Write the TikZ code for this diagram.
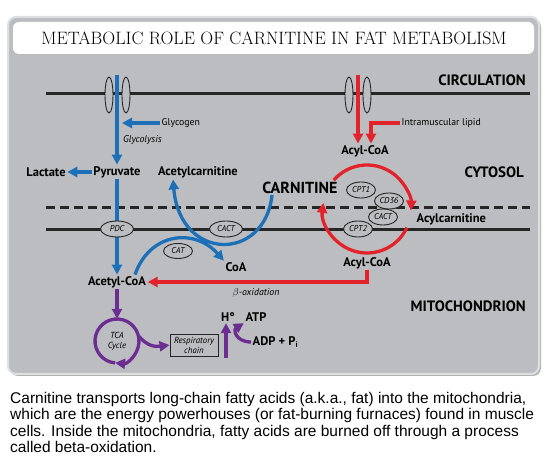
\documentclass[tikz,border=0pt]{standalone}
\usepackage{fontspec}
\newfontfamily\labelfont{PT Sans}
\newfontfamily\captionfont{Liberation Sans}
\usepackage{tikz}
\usetikzlibrary{arrows.meta,shapes.geometric,calc}
\usepackage{xcolor}
\definecolor{panelgray}{RGB}{188,189,192}
\definecolor{rimgray}{RGB}{222,223,224}
\definecolor{pathblue}{RGB}{28,112,184}
\definecolor{pathred}{RGB}{226,35,43}
\definecolor{pathpurple}{RGB}{108,45,145}

\begin{document}
\begin{tikzpicture}[
  x=1pt,y=-1pt,font=\labelfont,
  membrane/.style={line width=3pt, draw=black!85},
  chan/.style={ellipse, draw=black!85, line width=0.9pt, fill=panelgray,
    minimum width=8pt, minimum height=36pt, inner sep=0pt},
  enz/.style={ellipse, draw=black!85, line width=0.9pt, fill=panelgray,
    minimum width=29pt, minimum height=16pt, inner sep=0pt,
    font=\labelfont\itshape\fontsize{8.5}{9}\selectfont},
  lbl/.style={font=\labelfont\bfseries\fontsize{12.5}{14}\selectfont, inner sep=1.5pt},
  region/.style={font=\labelfont\bfseries\fontsize{15}{17}\selectfont, anchor=east, inner sep=0pt},
  side/.style={font=\labelfont\fontsize{9.8}{11}\selectfont, inner sep=1.5pt},
  proc/.style={font=\labelfont\itshape\fontsize{9.8}{11}\selectfont, inner sep=1pt},
  tip/.style={-{Triangle[length=10pt,width=10pt]}},
  bluearr/.style={tip, draw=pathblue, line width=3.3pt},
  redarr/.style={tip, draw=pathred, line width=3.3pt},
  purplearr/.style={tip, draw=pathpurple, line width=3.3pt}
]
  \useasboundingbox (0,0) rectangle (550,468);
  \fill[white] (0,0) rectangle (550,468);

  % panel and title
  \fill[black!30, rounded corners=8pt] (10,19) rectangle (541,376);
  \draw[fill=panelgray, draw=rimgray, line width=2pt, rounded corners=8pt]
    (8,17) rectangle (539,374);
  \fill[white, rounded corners=6pt] (13,22) rectangle (534,54);
  \node[font=\rmfamily\fontsize{17.9}{19}\selectfont] (title) at (274,38)
    {METABOLIC ROLE OF CARNITINE IN FAT METABOLISM};

  % membranes
  \draw[membrane] (46,94) -- (530,94);
  \draw[membrane, dash pattern=on 9pt off 5pt] (46,208) -- (530,208);
  \draw[membrane] (46,230) -- (530,230);

  \node[region] (circ) at (526,80) {CIRCULATION};
  \node[region] (cyto) at (524,172) {CYTOSOL};
  \node[region] (mito) at (526,306) {MITOCHONDRION};

  % channels
  \node[chan] (chanba) at (109,95) {};
  \node[chan] (chanbb) at (126,95) {};
  \node[chan] (chanra) at (349,95) {};
  \node[chan] (chanrb) at (367,95) {};

  % labels
  \node[lbl] (lac) at (46,172) {Lactate};
  \node[lbl] (pyr) at (117,172) {Pyruvate};
  \node[lbl] (acarn) at (198,172) {Acetylcarnitine};
  \node[font=\labelfont\bfseries\fontsize{16}{18}\selectfont, inner sep=1pt]
    (carn) at (300,188) {CARNITINE};
  \node[lbl] (acoa) at (117,282) {Acetyl-CoA};
  \node[lbl] (coa) at (236,267) {CoA};
  \node[lbl] (acyla) at (365,151) {Acyl-CoA};
  \node[lbl] (acylb) at (367,263) {Acyl-CoA};
  \node[lbl, anchor=west] (acylc) at (415,219) {Acylcarnitine};
  \node[side, anchor=west] (glyc) at (160,123) {Glycogen};
  \node[proc, anchor=west] (glycol) at (122,140) {Glycolysis};
  \node[side, anchor=west] (lipid) at (400,123) {Intramuscular lipid};
  \node[proc] (boxid) at (256,293) {$\beta$-oxidation};

  % blue: glucose side
  \coordinate (btop) at (117,75);
  \coordinate (gtip) at (122,123);
  \draw[bluearr] (btop) -- (pyr.north);
  \draw[bluearr] (glyc.west) -- (gtip);
  \draw[bluearr] (pyr.west) -- (lac.east);
  \draw[bluearr] (pyr.south) -- (acoa.north);
  \draw[bluearr] ([xshift=18pt]acoa.north) .. controls (150,232) and (195,228) .. (coa.north west);
  \draw[bluearr] ([xshift=-28pt]carn.south) .. controls (265,262) and (180,262) .. ([xshift=-25pt]acarn.south);
  \node[enz, minimum width=33pt] (pdc) at (117,229) {PDC};
  \node[enz, minimum width=33pt] (cacta) at (226,229) {CACT};
  \node[enz, minimum width=29pt, minimum height=15pt] (cat) at (178,251) {CAT};

  % red: fat side
  \coordinate (rtop) at (358,75);
  \coordinate (loop) at (367,209);
  \draw[redarr] (rtop) -- (rtop |- acyla.north);
  \draw[redarr] (lipid.west) -| ([xshift=6pt]acyla.north);
  \draw[redarr] (loop) ++(221:44) arc[start angle=221, end angle=362, radius=44];
  \draw[redarr] (loop) ++(25:44) arc[start angle=25, end angle=188, radius=44];
  \node[enz, minimum width=29pt] (cpta) at (361,190) {CPT1};
  \node[enz, minimum width=29pt] (cd) at (389,201) {CD36};
  \node[enz, minimum width=29pt] (cpto) at (358,229) {CPT2};
  \node[enz, minimum width=29pt] (cactb) at (383,217) {CACT};
  \draw[redarr] (acylb.south) |- (acoa.east);

  % purple: TCA and respiration
  \node[circle, minimum size=44pt, inner sep=0pt,
    font=\labelfont\itshape\fontsize{8.8}{10}\selectfont, align=center]
    (tca) at (117,341) {TCA\\Cycle};
  \node[draw=black!85, line width=0.9pt, minimum width=48pt, minimum height=22pt,
    inner sep=0pt, align=center,
    font=\labelfont\itshape\fontsize{8.8}{10}\selectfont]
    (resp) at (194,345) {Respiratory\\chain};
  \node[lbl] (hplus) at (228,317) {H°};
  \node[lbl] (atp) at (256,317) {ATP};
  \node[lbl, anchor=west] (adp) at (251,342) {ADP + P\textsubscript{\fontsize{8}{9}\selectfont i}};
  \coordinate (hbot) at (226,358);
  \draw[purplearr] (acoa.south) -- (tca.north);
  \draw[purplearr] (tca.center) ++(-265:22) arc[start angle=-265, end angle=95, radius=22];
  \draw[purplearr] (tca.13) .. controls (147,346) and (155,347) .. (resp.west);
  \draw[purplearr] (hbot) -- (hbot |- hplus.south);
  \draw[purplearr] (adp.west) .. controls (236,342) and (233,330) .. (atp.south west);

  % caption
  \node[anchor=north west, align=left, inner sep=0pt,
    font=\captionfont\fontsize{15.5}{16.5}\selectfont] (cap) at (10,392)
    {Carnitine transports long-chain fatty acids (a.k.a., fat) into the mitochondria,\\
     which are the energy powerhouses (or fat-burning furnaces) found in muscle\\
     cells. Inside the mitochondria, fatty acids are burned off through a process\\
     called beta-oxidation.};
\end{tikzpicture}
\end{document}
